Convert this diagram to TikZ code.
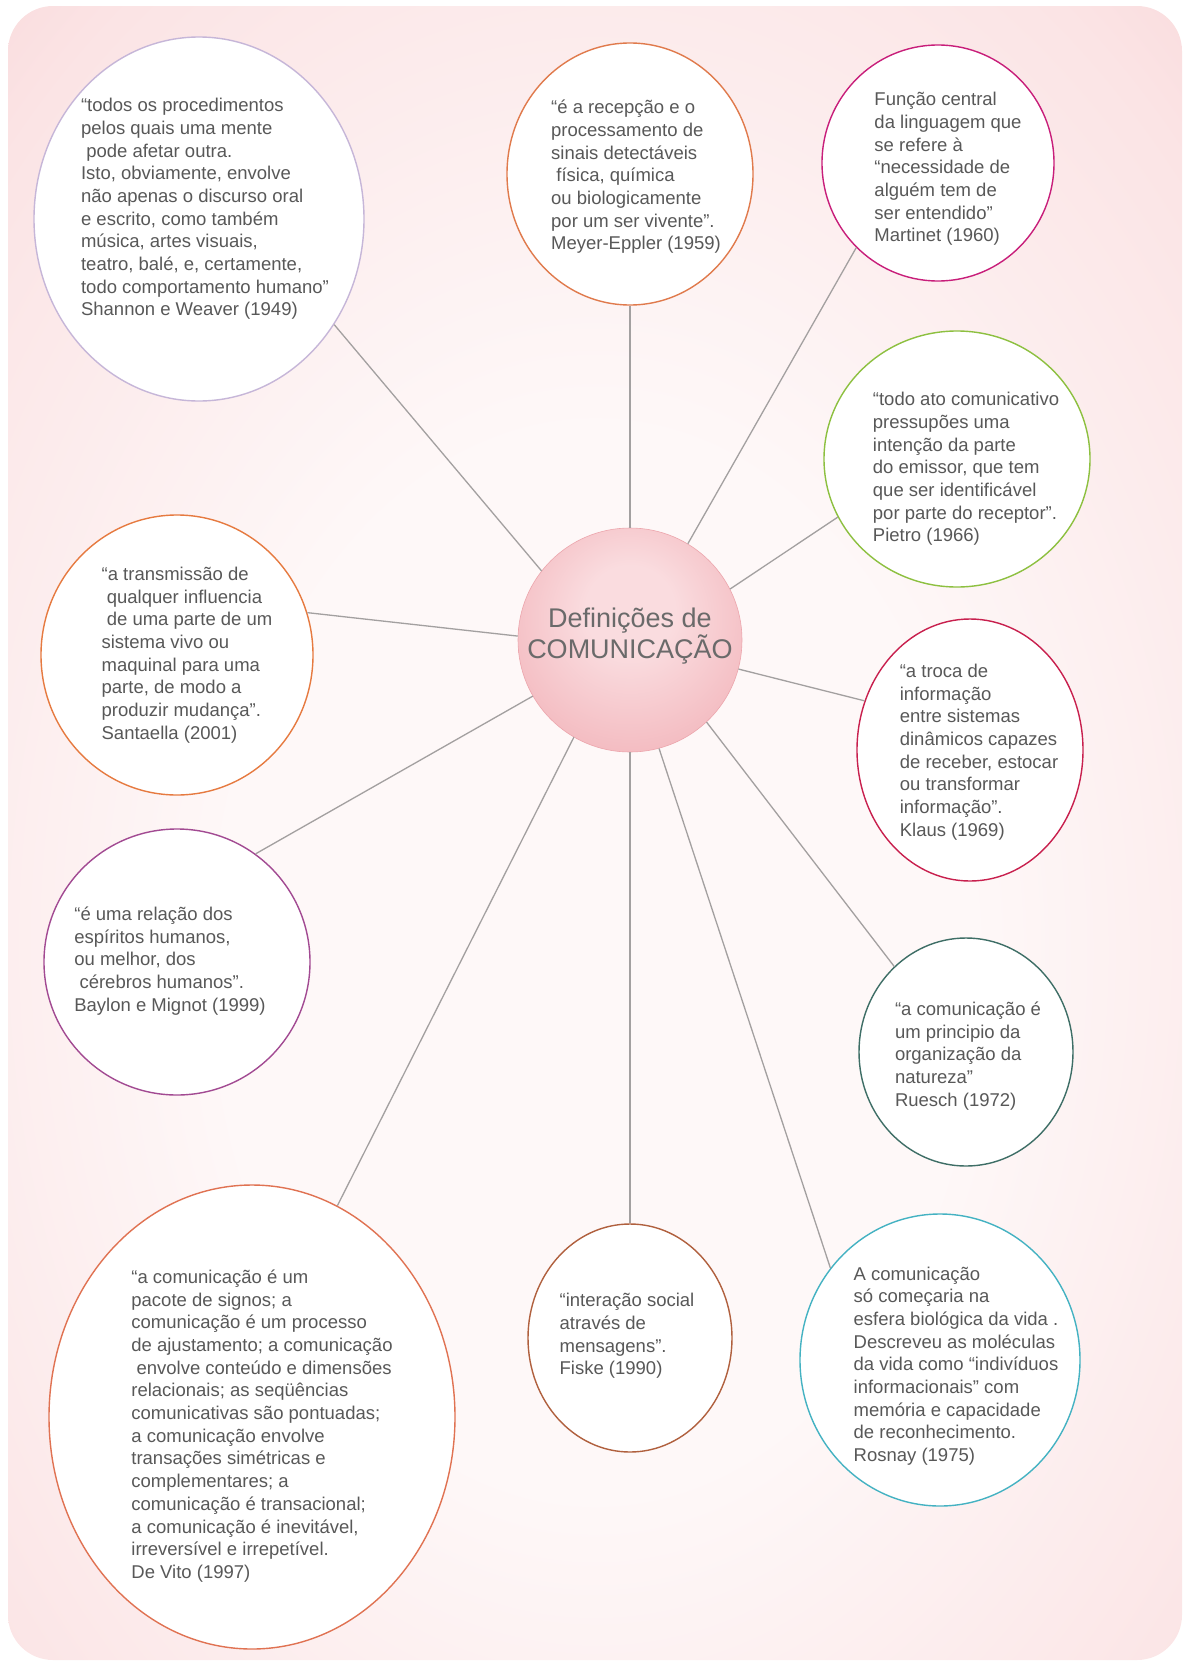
\documentclass[tikz,border=0pt]{standalone}
\usepackage{fontspec}
\setmainfont{Liberation Sans}
\usetikzlibrary{shapes.geometric}
\definecolor{bgin}{HTML}{FEF8F8}
\definecolor{bgmid}{HTML}{FBE4E5}
\definecolor{bgout}{HTML}{F5C4C7}
\definecolor{bgcorner}{HTML}{EFAEB3}
\definecolor{cA}{HTML}{FADCDF}
\definecolor{cB}{HTML}{F2B4BA}
\definecolor{cC}{HTML}{E9969F}
\definecolor{txtgray}{HTML}{585858}
\definecolor{ctrtxt}{HTML}{6A6A6A}
\definecolor{linegray}{HTML}{A3A0A0}
\definecolor{cShannon}{HTML}{C6B6D8}
\definecolor{cMeyer}{HTML}{E07A4C}
\definecolor{cMartinet}{HTML}{C81E7A}
\definecolor{cPietro}{HTML}{8DC040}
\definecolor{cSantaella}{HTML}{E67A40}
\definecolor{cKlaus}{HTML}{C8204E}
\definecolor{cBaylon}{HTML}{A24A92}
\definecolor{cRuesch}{HTML}{3E6E66}
\definecolor{cDeVito}{HTML}{E07252}
\definecolor{cFiske}{HTML}{B0603E}
\definecolor{cRosnay}{HTML}{44B2C2}
\pgfdeclareradialshading{bgshade}{\pgfpoint{0bp}{-5bp}}{color(0bp)=(bgin); color(16bp)=(bgin); color(34bp)=(bgmid); color(50bp)=(bgout); color(75bp)=(bgcorner)}
\pgfdeclareradialshading{ctrshade}{\pgfpoint{0bp}{8bp}}{color(0bp)=(cA); color(10bp)=(cA); color(34bp)=(cB); color(58bp)=(cC)}
\tikzset{
  bub/.style={ellipse, fill=white, line width=1.4pt, inner sep=0pt},
  txt/.style={align=left, text=txtgray, inner sep=0pt, font=\fontsize{18.5}{22.7}\selectfont},
  conn/.style={draw=linegray, line width=1.3pt},
}
\begin{document}
\begin{tikzpicture}[x=1pt,y=-1pt]
\useasboundingbox (0,0) rectangle (1186,1665);
\shade[shading=bgshade, rounded corners=45pt] (8,6) rectangle (1182,1660);

% center
\node[circle, shade, shading=ctrshade, draw=cC!85!white, line width=0.6pt, minimum size=224pt, inner sep=0pt] (ctr) at (630,640) {};
\node[align=center, text=ctrtxt, inner sep=0pt, font=\fontsize{27}{28}\selectfont] (ctrT) at (630,636) {Definições de\\COMUNICAÇÃO};

% bubbles
\node[bub, draw=cShannon, minimum width=330pt, minimum height=364pt] (shannon) at (199,219) {};
\node[bub, draw=cMeyer, minimum width=246pt, minimum height=262pt] (meyer) at (630,174) {};
\node[bub, draw=cMartinet, minimum width=232pt, minimum height=236pt] (martinet) at (938,163) {};
\node[bub, draw=cPietro, minimum width=266pt, minimum height=256pt] (pietro) at (957,459) {};
\node[bub, draw=cSantaella, minimum width=272pt, minimum height=280pt] (santaella) at (177,655) {};
\node[bub, draw=cKlaus, minimum width=226pt, minimum height=262pt] (klaus) at (970,750) {};
\node[bub, draw=cBaylon, minimum width=266pt, minimum height=266pt] (baylon) at (177,962) {};
\node[bub, draw=cRuesch, minimum width=214pt, minimum height=228pt] (ruesch) at (966,1052) {};
\node[bub, draw=cDeVito, minimum width=406pt, minimum height=464pt] (devito) at (252,1417) {};
\node[bub, draw=cFiske, minimum width=204pt, minimum height=228pt] (fiske) at (630,1338) {};
\node[bub, draw=cRosnay, minimum width=280pt, minimum height=292pt] (rosnay) at (940,1360) {};

% texts
\node[txt] (shannonT) at (205,209) {“todos os procedimentos\\
pelos quais uma mente\\
\hspace*{.28em}pode afetar outra.\\
Isto, obviamente, envolve\\
não apenas o discurso oral\\
e escrito, como também\\
música, artes visuais,\\
teatro, balé, e, certamente,\\
todo comportamento humano"\\
Shannon e Weaver (1949)};

\node[txt] (meyerT) at (636,177) {“é a recepção e o\\
processamento de\\
sinais detectáveis\\
\hspace*{.28em}física, química\\
ou biologicamente\\
por um ser vivente".\\
Meyer-Eppler (1959)};

\node[txt] (martinetT) at (948,169) {Função central\\
da linguagem que\\
se refere à\\
“necessidade de\\
alguém tem de\\
ser entendido"\\
Martinet (1960)};

\node[txt] (pietroT) at (966,469) {“todo ato comunicativo\\
pressupões uma\\
intenção da parte\\
do emissor, que tem\\
que ser identificável\\
por parte do receptor".\\
Pietro (1966)};

\node[txt] (santaellaT) at (187,655) {“a transmissão de\\
\hspace*{.28em}qualquer influencia\\
\hspace*{.28em}de uma parte de um\\
sistema vivo ou\\
maquinal para uma\\
parte, de modo a\\
produzir mudança".\\
Santaella (2001)};

\node[txt] (klausT) at (979,752) {“a troca de\\
informação\\
entre sistemas\\
dinâmicos capazes\\
de receber, estocar\\
ou transformar\\
informação".\\
Klaus (1969)};

\node[txt] (baylonT) at (170,961) {“é uma relação dos\\
espíritos humanos,\\
ou melhor, dos\\
\hspace*{.28em}cérebros humanos".\\
Baylon e Mignot (1999)};

\node[txt] (rueschT) at (968,1056) {“a comunicação é\\
um principio da\\
organização da\\
natureza"\\
Ruesch (1972)};

\node[txt] (devitoT) at (262,1426) {“a comunicação é um\\
pacote de signos; a\\
comunicação é um processo\\
de ajustamento; a comunicação\\
\hspace*{.28em}envolve conteúdo e dimensões\\
relacionais; as seqüências\\
comunicativas são pontuadas;\\
a comunicação envolve\\
transações simétricas e\\
complementares; a\\
comunicação é transacional;\\
a comunicação é inevitável,\\
irreversível e irrepetível.\\
De Vito (1997)};

\node[txt] (fiskeT) at (627,1336) {“interação social\\
através de\\
mensagens".\\
Fiske (1990)};

\node[txt] (rosnayT) at (956,1366) {A comunicação\\
só começaria na\\
esfera biológica da vida .\\
Descreveu as moléculas\\
da vida como “indivíduos\\
informacionais" com\\
memória e capacidade\\
de reconhecimento.\\
Rosnay (1975)};

% connectors
\draw[conn] (ctr.142) -- (shannon.-38);
\draw[conn] (ctr.90) -- (meyer.-90);
\draw[conn] (ctr.59) -- (martinet.226);
\draw[conn] (ctr.27) -- (pietro.206);
\draw[conn] (ctr.-15) -- (klaus.155);
\draw[conn] (ctr.-47) -- (ruesch.130);
\draw[conn] (ctr.-75) -- (rosnay.140);
\draw[conn] (ctr.-90) -- (fiske.90);
\draw[conn] (ctr.240) -- (devito.68);
\draw[conn] (ctr.210) -- (baylon.54);
\draw[conn] (ctr.178) -- (santaella.18);
\end{tikzpicture}
\end{document}
